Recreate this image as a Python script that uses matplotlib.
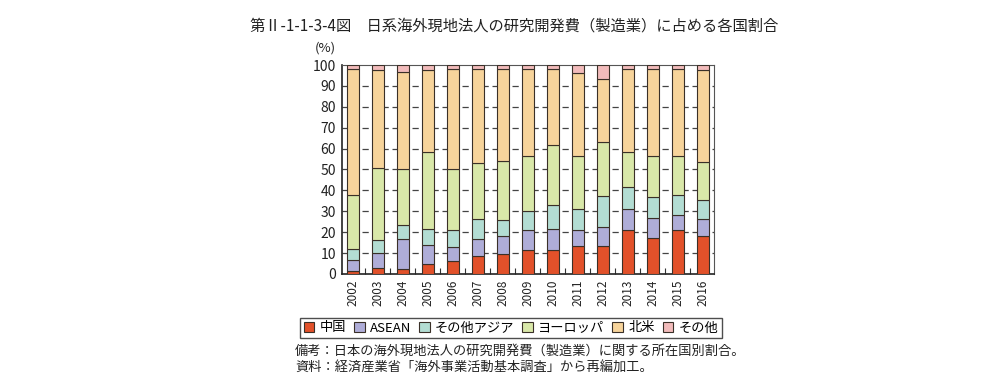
import matplotlib
matplotlib.use("Agg")
import matplotlib.pyplot as plt
from matplotlib.patches import Patch
import numpy as np

plt.rcParams['font.family'] = ['Noto Sans CJK JP', 'DejaVu Sans']

years = [str(y) for y in range(2002, 2017)]
series_names = ['中国', 'ASEAN', 'その他アジア', 'ヨーロッパ', '北米', 'その他']
china = [1.5, 3.1, 2.4, 5.0, 6.3, 8.7, 9.5, 11.7, 11.7, 13.6, 13.6, 21.0, 17.3, 21.0, 18.4]
asean = [5.3, 6.9, 14.4, 8.9, 6.5, 8.1, 8.9, 9.3, 10.0, 7.4, 9.1, 10.1, 9.7, 7.0, 7.8]
other_asia = [5.2, 6.2, 6.5, 7.5, 8.2, 9.4, 7.5, 9.1, 11.5, 10.1, 14.5, 10.5, 9.7, 10.0, 9.1]
europe = [25.7, 34.6, 27.1, 36.9, 29.3, 26.8, 28.1, 26.2, 28.4, 25.2, 25.8, 16.6, 19.6, 18.3, 18.3]
north_america = [60.3, 46.7, 46.2, 39.2, 47.7, 45.0, 44.0, 41.9, 36.6, 39.9, 30.5, 39.7, 41.9, 41.9, 44.0]
others = [2.0, 2.5, 3.4, 2.5, 2.0, 2.0, 2.0, 1.8, 1.8, 3.8, 6.5, 2.1, 1.8, 1.8, 2.4]

colors = ['#E2512A', '#AFADD8', '#B3DDD3', '#D9E8A9', '#F7D49B', '#F2BBBB']
edge = '#3a3028'

fig = plt.figure(figsize=(9.87, 3.86), dpi=100)
ax = fig.add_axes([0.3462, 0.2902, 0.3772, 0.5414])

x = np.arange(len(years))
bottom = np.zeros(len(years))
for vals, c in zip([china, asean, other_asia, europe, north_america, others], colors):
    ax.bar(x, vals, 0.5, bottom=bottom, color=c, edgecolor=edge, linewidth=0.8, zorder=3)
    bottom += np.array(vals)

ax.set_xlim(-0.45, len(years) - 0.55)
ax.set_ylim(0, 100)
ax.set_yticks(range(0, 101, 10))
ax.tick_params(axis='y', length=0, labelsize=10, pad=4, colors='#222222')
ax.set_xticks(x)
ax.set_xticklabels(years, rotation=90, fontsize=8.5, color='#222222')
ax.tick_params(axis='x', which='major', length=0, pad=4)
ax.set_xticks(x[:-1] + 0.5, minor=True)
ax.tick_params(axis='x', which='minor', direction='in', length=4, width=0.8, color='#333333')

for yv in range(10, 100, 10):
    ax.axhline(yv, color='#444444', linewidth=0.9, linestyle=(0, (5, 3)), zorder=1)

for side in ['left', 'bottom']:
    ax.spines[side].set_linewidth(1.2)
    ax.spines[side].set_color('#222222')
for side in ['top', 'right']:
    ax.spines[side].set_linewidth(0.8)
    ax.spines[side].set_color('#555555')

fig.text(325 / 987, 1 - 48 / 386, '(%)', fontsize=9.5, ha='center', va='center', color='#222222')

fig.text(514 / 987, 1 - 26 / 386,
         '第Ⅱ-1-1-3-4図\u3000日系海外現地法人の研究開発費（製造業）に占める各国割合',
         fontsize=11, ha='center', va='center', color='#222222')

handles = [Patch(facecolor=c, edgecolor=edge, linewidth=0.8) for c in colors]
leg = fig.legend(handles, series_names, loc='center', bbox_to_anchor=(511 / 987, 1 - 328 / 386),
                 ncol=6, fontsize=9.5, frameon=True, fancybox=False, handlelength=0.8, handleheight=0.8,
                 handletextpad=0.4, columnspacing=0.6, borderpad=0.25, borderaxespad=0)
leg.get_frame().set_edgecolor('#222222')
leg.get_frame().set_linewidth(1.0)

fig.text(295 / 987, 1 - 351 / 386, '備考：日本の海外現地法人の研究開発費（製造業）に関する所在国別割合。',
         fontsize=9.5, ha='left', va='center', color='#222222')
fig.text(295 / 987, 1 - 368 / 386, '資料：経済産業省「海外事業活動基本調査」から再編加工。',
         fontsize=9.5, ha='left', va='center', color='#222222')

fig.savefig('out.png', dpi=100)
